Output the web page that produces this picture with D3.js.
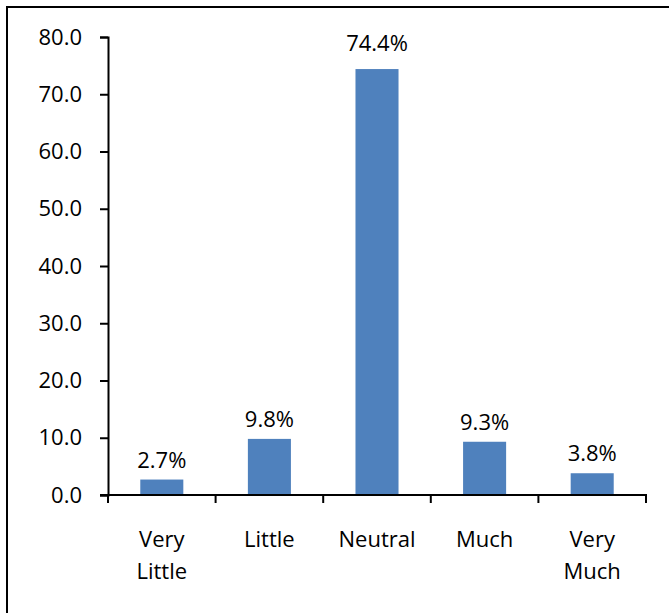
<!DOCTYPE html>
<html>
<head>
<meta charset="utf-8">
<script src="https://cdn.jsdelivr.net/npm/d3@7"></script>
<style>
  html, body { margin: 0; padding: 0; background: #fff; }
  svg { display: block; }
  text { font-family: "Open Sans", Lato, sans-serif; fill: #000; }
</style>
</head>
<body>
<svg id="chart" width="669" height="613"></svg>
<script>
// Response distribution (percent of respondents)
const categories = [["Very", "Little"], ["Little"], ["Neutral"], ["Much"], ["Very", "Much"]];
const values = [2.7, 9.8, 74.4, 9.3, 3.8];
const yTicks = [0, 10, 20, 30, 40, 50, 60, 70, 80];

const FONT = "'Open Sans', Lato, sans-serif";
const svg = d3.select("#chart");
const W = 669, H = 613;
const margin = { left: 108, right: 23, top: 37, bottom: 118 };

// outer frame (runs past the right and bottom edges)
svg.append("rect")
  .attr("x", 7).attr("y", 7)
  .attr("width", W + 10).attr("height", H + 10)
  .attr("fill", "none").attr("stroke", "#000").attr("stroke-width", 2);

const keys = categories.map(c => c.join(" "));
const x = d3.scaleBand().domain(keys)
  .range([margin.left, W - margin.right])
  .paddingInner(0.6).paddingOuter(0.3);
const y = d3.scaleLinear().domain([0, 80]).range([H - margin.bottom, margin.top]);

// bars
svg.append("g").selectAll("rect").data(values).join("rect")
  .attr("x", (d, i) => x(keys[i]))
  .attr("y", d => y(d))
  .attr("width", x.bandwidth())
  .attr("height", d => y(0) - y(d))
  .attr("fill", "#4F81BD");

// value labels: sit just above each bar, a little higher on the tall one
svg.append("g").selectAll("text").data(values).join("text")
  .attr("x", (d, i) => x(keys[i]) + x.bandwidth() / 2)
  .attr("y", d => y(d) - (d > 50 ? 18 : 12))
  .attr("text-anchor", "middle")
  .attr("font-size", 22)
  .text(d => d.toFixed(1) + "%");

// y axis
const yAxis = d3.axisLeft(y).tickValues(yTicks).tickFormat(d3.format(".1f")).tickSize(8).tickPadding(18);
const gy = svg.append("g").attr("transform", `translate(${margin.left},0)`).call(yAxis);
gy.select(".domain").attr("stroke", "#000").attr("stroke-width", 2);
gy.selectAll(".tick line").attr("stroke", "#000").attr("stroke-width", 2);
gy.selectAll(".tick text").attr("font-size", 22).attr("font-family", FONT).attr("fill", "#000");

// x axis line with boundary ticks between categories
const x0 = margin.left, x1 = W - margin.right;
svg.append("line")
  .attr("x1", x0 - 8).attr("x2", x1 + 1)
  .attr("y1", y(0)).attr("y2", y(0))
  .attr("stroke", "#000").attr("stroke-width", 2);
const bounds = d3.range(keys.length + 1).map(i => x0 + i * (x1 - x0) / keys.length);
svg.append("g").selectAll("line").data(bounds).join("line")
  .attr("x1", d => d).attr("x2", d => d)
  .attr("y1", y(0)).attr("y2", y(0) + 8)
  .attr("stroke", "#000").attr("stroke-width", 2);

// category labels
const lab = svg.append("g").selectAll("text").data(categories).join("text")
  .attr("x", (d, i) => x(keys[i]) + x.bandwidth() / 2)
  .attr("y", 547)
  .attr("text-anchor", "middle")
  .attr("font-size", 22);
lab.selectAll("tspan").data(d => d).join("tspan")
  .attr("x", function () { return this.parentNode.getAttribute("x"); })
  .attr("dy", (d, i) => i === 0 ? 0 : 32)
  .text(d => d);
</script>
</body>
</html>
